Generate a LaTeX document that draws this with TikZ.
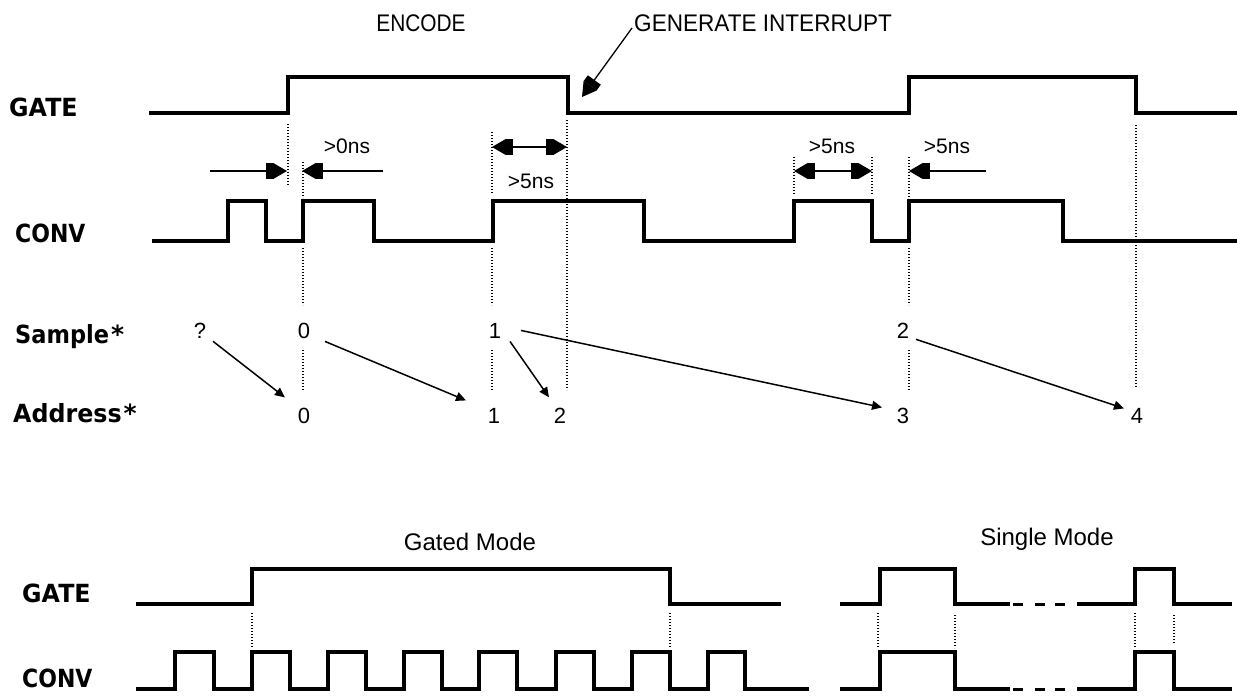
\documentclass[tikz,border=0pt]{standalone}
\usepackage{fontspec}
\setmainfont{Liberation Sans}
\newfontfamily\lblfont{DejaVu Sans}
\usetikzlibrary{arrows.meta}
\newcommand{\hs}[2]{\scalebox{#1}[1]{#2}}
\tikzset{
  sig/.style={line width=4pt, line join=miter},
  dotl/.style={line width=1.3pt, dash pattern=on 1.3pt off 1.7pt},
  lbl/.style={anchor=base west, inner sep=0pt, font=\lblfont\bfseries\fontsize{25}{25}\selectfont},
  txt/.style={inner sep=0pt, font=\fontsize{24}{24}\selectfont},
  sm/.style={inner sep=0pt, anchor=base, font=\fontsize{21}{21}\selectfont},
  dig/.style={inner sep=0pt, anchor=base, font=\fontsize{22}{22}\selectfont},
  bigarr/.style={line width=1.3pt, -{Rectangle[length=7pt,width=16pt,sep=0pt]Triangle[length=14pt,width=16pt]}},
  dblarr/.style={line width=1.3pt, {Triangle[length=14pt,width=16pt,sep=0pt]Rectangle[length=7pt,width=16pt]}-{Rectangle[length=7pt,width=16pt,sep=0pt]Triangle[length=14pt,width=16pt]}},
  sarr/.style={line width=1.5pt, -{Triangle[length=10pt,width=9pt]}}
}
\begin{document}
\begin{tikzpicture}[x=1pt,y=-1pt]
\useasboundingbox (0,0) rectangle (1237,696);
\fill[white] (0,0) rectangle (1237,696);

% ---------- labels ----------
\node[lbl] (gate1) at (9,116) {\hs{0.95}{GATE}};
\node[lbl] (conv1) at (15,242) {\hs{0.88}{CONV}};
\node[lbl] (samp) at (15,343) {\hs{0.9}{Sample}\kern2pt*};
\node[lbl] (addr) at (13,422) {\hs{0.95}{Address}\kern2pt*};
\node[lbl] (gate2) at (22,602) {\hs{0.95}{GATE}};
\node[lbl] (conv2) at (22,687) {\hs{0.88}{CONV}};

\node[txt, anchor=base] (enc) at (421,31) {\hs{0.87}{ENCODE}};
\node[txt, anchor=base west] (gi) at (634,31) {\hs{0.94}{GENERATE INTERRUPT}};
\coordinate (intr) at (582,97);
\draw[bigarr] ([shift={(-2,-3)}]gi.base west) -- (intr);

% ---------- top waveforms ----------
\draw[sig] (149,113) -- (288,113) -- (288,77) -- (568,77) -- (568,113) -- (909,113) -- (909,77) -- (1136,77) -- (1136,113) -- (1237,113);
\draw[sig] (152,241) -- (228,241) -- (228,201) -- (266,201) -- (266,241) -- (303,241) -- (303,201) -- (374,201) -- (374,241) -- (493,241) -- (493,201) -- (644,201) -- (644,241) -- (794,241) -- (794,201) -- (872,201) -- (872,241) -- (909,241) -- (909,201) -- (1063,201) -- (1063,241) -- (1237,241);

% ---------- dotted guides ----------
\draw[dotl] (288,124) -- (288,185);
\draw[dotl] (303,162) -- (303,198);
\draw[dotl] (303,248) -- (303,305);
\draw[dotl] (303,350) -- (303,390);
\draw[dotl] (492,132) -- (492,193);
\draw[dotl] (492,248) -- (492,305);
\draw[dotl] (492,350) -- (492,390);
\draw[dotl] (567,120) -- (567,390);
\draw[dotl] (794,157) -- (794,195);
\draw[dotl] (872,157) -- (872,195);
\draw[dotl] (909,157) -- (909,197);
\draw[dotl] (909,248) -- (909,305);
\draw[dotl] (909,350) -- (909,390);
\draw[dotl] (1136,125) -- (1136,388);

% ---------- timing arrows ----------
\coordinate (g0l) at (210,171);
\coordinate (g0a) at (287,171);
\coordinate (g0r) at (383,171);
\coordinate (g0b) at (302,171);
\draw[bigarr] (g0l) -- (g0a);
\draw[bigarr] (g0r) -- (g0b);
\coordinate (g1a) at (492,147);
\coordinate (g1b) at (567,147);
\draw[dblarr] (g1a) -- (g1b);
\coordinate (g2a) at (794,171);
\coordinate (g2b) at (872,171);
\draw[dblarr] (g2a) -- (g2b);
\coordinate (g3r) at (986,171);
\coordinate (g3a) at (909,171);
\draw[bigarr] (g3r) -- (g3a);

\node[sm] (t0) at (347,153) {>0ns};
\node[sm] (t1) at (531,188) {>5ns};
\node[sm] (t2) at (832,153) {>5ns};
\node[sm] (t3) at (947,153) {>5ns};

% ---------- sample / address ----------
\node[dig] (sq) at (200,338) {?};
\node[dig] (s0) at (304,338) {0};
\node[dig] (s1) at (495,338) {1};
\node[dig] (s2) at (903,338) {2};
\node[dig] (a0) at (304,423) {0};
\node[dig] (a1) at (494,423) {1};
\node[dig] (a2) at (560,423) {2};
\node[dig] (a3) at (903,423) {3};
\node[dig] (a4) at (1137,423) {4};

\draw[sarr] ([shift={(13,11)}]sq.center) -- ([shift={(-19,-18)}]a0.center);
\draw[sarr] ([shift={(21,11)}]s0.center) -- ([shift={(-28,-15)}]a1.center);
\draw[sarr] ([shift={(15,11)}]s1.center) -- ([shift={(-11,-18)}]a2.center);
\draw[sarr] ([shift={(26,0)}]s1.center) -- ([shift={(-21,-8)}]a3.center);
\draw[sarr] ([shift={(13,9)}]s2.center) -- ([shift={(-13,-7)}]a4.center);

% ---------- bottom: gated mode ----------
\node[txt, anchor=base] (gm) at (470,550) {Gated Mode};
\draw[sig] (136,604) -- (252,604) -- (252,569) -- (670,569) -- (670,604) -- (781,604);
\draw[sig] (136,689) -- (175,689) -- (175,652) -- (214,652) -- (214,689)
  -- (252,689) -- (252,652) -- (290,652) -- (290,689)
  -- (328,689) -- (328,652) -- (366,652) -- (366,689)
  -- (404,689) -- (404,652) -- (442,652) -- (442,689)
  -- (479,689) -- (479,652) -- (517,652) -- (517,689)
  -- (556,689) -- (556,652) -- (594,652) -- (594,689)
  -- (632,689) -- (632,652) -- (670,652) -- (670,689)
  -- (708,689) -- (708,652) -- (745,652) -- (745,689) -- (809,689);
\draw[dotl] (252,613) -- (252,647);
\draw[dotl] (670,613) -- (670,648);

% ---------- bottom: single mode ----------
\node[txt, anchor=base] (smode) at (1047,545) {Single Mode};
\draw[sig] (840,604) -- (880,604) -- (880,569) -- (955,569) -- (955,604) -- (1010,604);
\draw[sig] (1077,604) -- (1135,604) -- (1135,569) -- (1174,569) -- (1174,604) -- (1232,604);
\draw[sig] (840,689) -- (880,689) -- (880,652) -- (955,652) -- (955,689) -- (1010,689);
\draw[sig] (1077,689) -- (1135,689) -- (1135,652) -- (1174,652) -- (1174,689) -- (1232,689);
\foreach \yy in {604,689} {
  \draw[line width=3pt] (1013,\yy) -- (1023,\yy);
  \draw[line width=3pt] (1035,\yy) -- (1045,\yy);
  \draw[line width=3pt] (1055,\yy) -- (1065,\yy);
}
\draw[dotl] (878,613) -- (878,647);
\draw[dotl] (955,615) -- (955,648);
\draw[dotl] (1135,613) -- (1135,647);
\draw[dotl] (1174,615) -- (1174,644);
\end{tikzpicture}
\end{document}
